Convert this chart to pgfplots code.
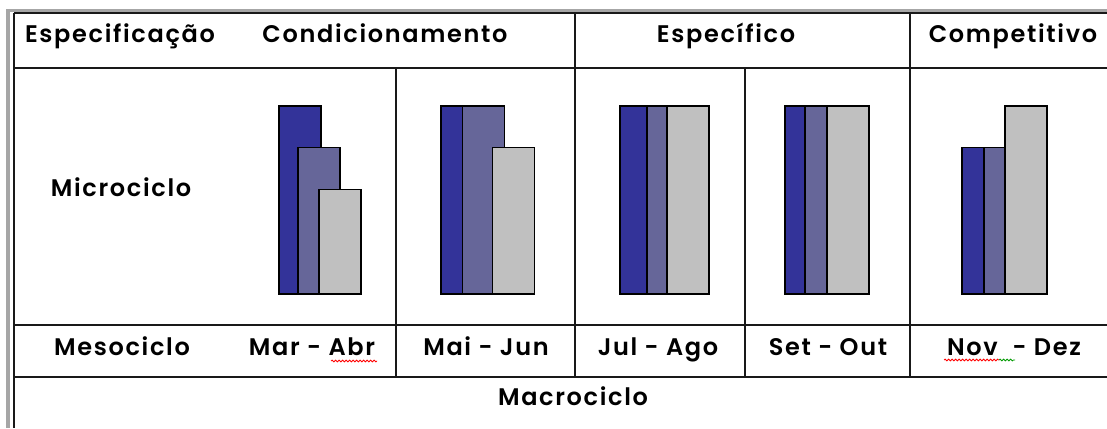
\documentclass[border=0pt]{standalone}
\usepackage{fontspec}
\setmainfont{Poppins}[BoldFont={Poppins SemiBold}, LetterSpace=7]
\usepackage{pgfplots}
\pgfplotsset{compat=1.18}
\usetikzlibrary{decorations.pathmorphing}
\definecolor{dark}{RGB}{51,51,153}
\definecolor{mid}{RGB}{102,102,153}
\definecolor{light}{RGB}{192,192,192}
\pgfplotsset{
  sheet/.style={width=1107pt, height=428pt, scale only axis, hide axis,
    xmin=0, xmax=1107, clip=false, at={(0,0)}, anchor=south west},
  cyclebar/.style={ybar, bar width=42, bar shift=0pt, draw=black, line width=1.6pt}
}
\tikzset{lbl/.style={anchor=base, font=\fontsize{24}{28}\selectfont\bfseries}}
\begin{document}
\begin{tikzpicture}
% table frame and texts, in pixel coordinates
\begin{axis}[sheet, ymin=0, ymax=428, y dir=reverse, name=frame]
  \draw[gray!70, line width=4pt] (axis cs:8,9) -- (axis cs:8,428);
  \draw[gray!70, line width=3pt] (axis cs:6,10.5) -- (axis cs:1107,10.5);
  \begin{scope}[black!90, line width=2pt]
    \draw (axis cs:14,13.5) -- (axis cs:1107,13.5);
    \draw (axis cs:14,13.5) -- (axis cs:14,428);
    \draw (axis cs:14,68) -- (axis cs:1107,68);
    \draw (axis cs:14,325) -- (axis cs:1107,325);
    \draw (axis cs:14,377) -- (axis cs:1107,377);
    \draw (axis cs:396,68) -- (axis cs:396,377);
    \draw (axis cs:575,13.5) -- (axis cs:575,377);
    \draw (axis cs:745,68) -- (axis cs:745,377);
    \draw (axis cs:910,13.5) -- (axis cs:910,377);
  \end{scope}
  \node[lbl] at (axis cs:120,42) {Especificação};
  \node[lbl] at (axis cs:385,42) {Condicionamento};
  \node[lbl] at (axis cs:726,42) {Específico};
  \node[lbl] at (axis cs:1013,42) {Competitivo};
  \node[lbl] at (axis cs:121,196) {Microciclo};
  \node[lbl] at (axis cs:122,355) {Mesociclo};
  \node[lbl] at (axis cs:312,355) {Mar - Abr};
  \node[lbl] at (axis cs:486,355) {Mai - Jun};
  \node[lbl] at (axis cs:658,355) {Jul - Ago};
  \node[lbl] at (axis cs:828,355) {Set - Out};
  \node[lbl] at (axis cs:1014,355) {Nov\ \ - Dez};
  \node[lbl] at (axis cs:573,405) {Macrociclo};
  \draw[red, line width=0.8pt, decorate, decoration={snake, amplitude=0.9pt, segment length=3.5pt}]
    (axis cs:331,361) -- (axis cs:377,361);
  \draw[red, line width=0.8pt, decorate, decoration={snake, amplitude=0.9pt, segment length=3.5pt}]
    (axis cs:944,360) -- (axis cs:999,360);
  \draw[green!60!black, line width=0.8pt, decorate, decoration={snake, amplitude=0.9pt, segment length=3.5pt}]
    (axis cs:999,360) -- (axis cs:1015,360);
\end{axis}
% bars, in load units
\begin{axis}[sheet, ymin=-6.405, ymax=14.053]
  \addplot[cyclebar, fill=dark] coordinates {(300,9) (462,9) (641,9) (806,9) (983,7)};
  \addplot[cyclebar, fill=mid] coordinates {(319,7) (483.5,9) (668,9) (826,9) (1005,7)};
  \addplot[cyclebar, fill=light] coordinates {(340,5) (513.5,7) (688,9) (848,9) (1026,9)};
\end{axis}
\pgfresetboundingbox
\path (frame.south west) rectangle (frame.north east);
\end{tikzpicture}
\end{document}
